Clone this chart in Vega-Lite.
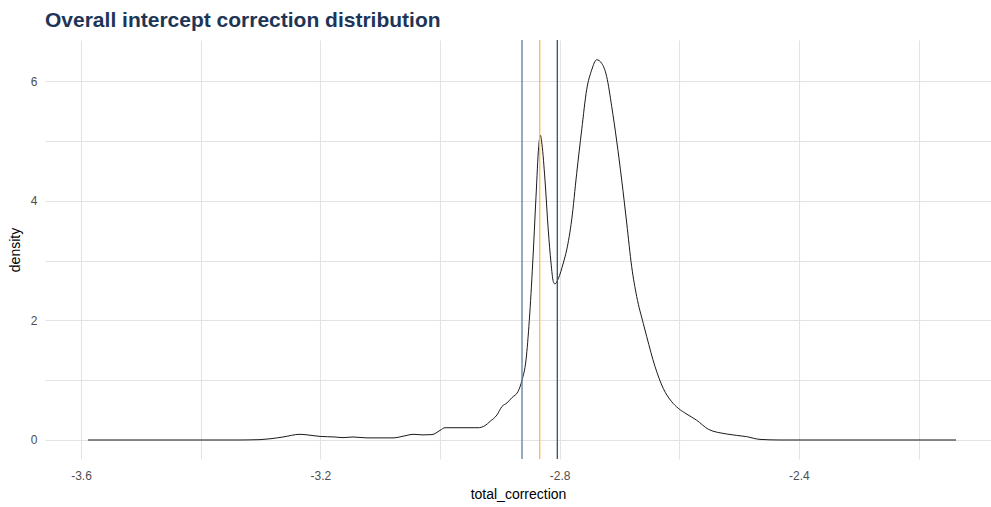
{
  "$schema": "https://vega.github.io/schema/vega-lite/v6.json",
  "width": 946,
  "height": 419,
  "autosize": {"type": "none"},
  "padding": {"left": 45, "top": 40, "right": 0, "bottom": 48},
  "background": "white",
  "title": {
    "text": "Overall intercept correction distribution",
    "anchor": "start",
    "frame": "group",
    "font": "Liberation Sans",
    "fontSize": 21,
    "fontWeight": "bold",
    "color": "#1d3557",
    "offset": 8
  },
  "config": {
    "view": {"stroke": null},
    "axis": {
      "domain": false,
      "ticks": false,
      "gridColor": "#e3e3e3",
      "gridWidth": 1.1,
      "labelFont": "Liberation Sans",
      "labelFontSize": 12,
      "labelColor": "#4d4d4d",
      "titleFont": "Liberation Sans",
      "titleFontSize": 14,
      "titleFontWeight": "normal",
      "titleColor": "#000000"
    }
  },
  "datasets": {
    "density": [
      {"total_correction": -3.5883, "density": 0.0},
      {"total_correction": -3.4847, "density": 0.0},
      {"total_correction": -3.4011, "density": 0.0},
      {"total_correction": -3.3343, "density": 0.0},
      {"total_correction": -3.3175, "density": 0.002},
      {"total_correction": -3.3008, "density": 0.006},
      {"total_correction": -3.2841, "density": 0.02},
      {"total_correction": -3.2624, "density": 0.05},
      {"total_correction": -3.2340, "density": 0.095},
      {"total_correction": -3.2173, "density": 0.08},
      {"total_correction": -3.2005, "density": 0.06},
      {"total_correction": -3.1755, "density": 0.05},
      {"total_correction": -3.1621, "density": 0.04},
      {"total_correction": -3.1454, "density": 0.05},
      {"total_correction": -3.1220, "density": 0.035},
      {"total_correction": -3.0785, "density": 0.035},
      {"total_correction": -3.0585, "density": 0.07},
      {"total_correction": -3.0451, "density": 0.095},
      {"total_correction": -3.0284, "density": 0.085},
      {"total_correction": -3.0133, "density": 0.09},
      {"total_correction": -3.0000, "density": 0.16},
      {"total_correction": -2.9916, "density": 0.205},
      {"total_correction": -2.9365, "density": 0.205},
      {"total_correction": -2.9248, "density": 0.24},
      {"total_correction": -2.9164, "density": 0.31},
      {"total_correction": -2.9047, "density": 0.42},
      {"total_correction": -2.8964, "density": 0.56},
      {"total_correction": -2.8880, "density": 0.62},
      {"total_correction": -2.8796, "density": 0.71},
      {"total_correction": -2.8696, "density": 0.81},
      {"total_correction": -2.8629, "density": 1.0},
      {"total_correction": -2.8562, "density": 1.34},
      {"total_correction": -2.8507, "density": 2.0},
      {"total_correction": -2.8450, "density": 2.96},
      {"total_correction": -2.8395, "density": 4.07},
      {"total_correction": -2.8350, "density": 4.91},
      {"total_correction": -2.8323, "density": 5.10},
      {"total_correction": -2.8295, "density": 4.94},
      {"total_correction": -2.8245, "density": 4.35},
      {"total_correction": -2.8190, "density": 3.51},
      {"total_correction": -2.8144, "density": 2.96},
      {"total_correction": -2.8106, "density": 2.65},
      {"total_correction": -2.8078, "density": 2.61},
      {"total_correction": -2.8022, "density": 2.70},
      {"total_correction": -2.7939, "density": 2.96},
      {"total_correction": -2.7882, "density": 3.18},
      {"total_correction": -2.7799, "density": 3.68},
      {"total_correction": -2.7715, "density": 4.46},
      {"total_correction": -2.7631, "density": 5.19},
      {"total_correction": -2.7548, "density": 5.86},
      {"total_correction": -2.7464, "density": 6.19},
      {"total_correction": -2.7381, "density": 6.36},
      {"total_correction": -2.7297, "density": 6.30},
      {"total_correction": -2.7214, "density": 6.08},
      {"total_correction": -2.7130, "density": 5.58},
      {"total_correction": -2.7046, "density": 5.00},
      {"total_correction": -2.6963, "density": 4.35},
      {"total_correction": -2.6879, "density": 3.63},
      {"total_correction": -2.6796, "density": 2.90},
      {"total_correction": -2.6712, "density": 2.40},
      {"total_correction": -2.6602, "density": 1.95},
      {"total_correction": -2.6545, "density": 1.73},
      {"total_correction": -2.6406, "density": 1.23},
      {"total_correction": -2.6267, "density": 0.86},
      {"total_correction": -2.6127, "density": 0.64},
      {"total_correction": -2.6017, "density": 0.53},
      {"total_correction": -2.5871, "density": 0.43},
      {"total_correction": -2.5709, "density": 0.33},
      {"total_correction": -2.5515, "density": 0.18},
      {"total_correction": -2.5208, "density": 0.10},
      {"total_correction": -2.4874, "density": 0.056},
      {"total_correction": -2.4651, "density": 0.01},
      {"total_correction": -2.4317, "density": 0.0},
      {"total_correction": -2.3147, "density": 0.0},
      {"total_correction": -2.1375, "density": 0.0}
    ],
    "lines": [
      {"stat": "lower", "total_correction": -2.8629},
      {"stat": "centre", "total_correction": -2.8333},
      {"stat": "upper", "total_correction": -2.8039}
    ]
  },
  "layer": [
    {
      "data": {"name": "density"},
      "mark": {"type": "line", "stroke": "#1a1a1a", "strokeWidth": 1, "interpolate": "monotone"},
      "encoding": {
        "x": {
          "field": "total_correction",
          "type": "quantitative",
          "scale": {"domain": [-3.6602, -2.079], "nice": false, "zero": false},
          "axis": {
            "title": "total_correction",
            "values": [-3.6, -3.4, -3.2, -3.0, -2.8, -2.6, -2.4, -2.2],
            "labelExpr": "abs(round(datum.value * 10)) % 4 === 0 ? '-' + format(abs(datum.value), '.1f') : ''",
            "labelPadding": 11,
            "titlePadding": 6
          }
        },
        "y": {
          "field": "density",
          "type": "quantitative",
          "scale": {"domain": [-0.318, 6.69], "nice": false, "zero": false},
          "axis": {
            "title": "density",
            "values": [0, 1, 2, 3, 4, 5, 6],
            "labelExpr": "datum.value % 2 === 0 ? datum.label : ''",
            "labelPadding": 8,
            "titlePadding": 8
          }
        }
      }
    },
    {
      "data": {"name": "lines"},
      "mark": {"type": "rule", "strokeWidth": 1.3},
      "encoding": {
        "x": {"field": "total_correction", "type": "quantitative"},
        "color": {
          "field": "stat",
          "type": "nominal",
          "scale": {"domain": ["lower", "centre", "upper"], "range": ["#5f7b9a", "#f0c445", "#2f4f7a"]},
          "legend": null
        }
      }
    }
  ]
}
